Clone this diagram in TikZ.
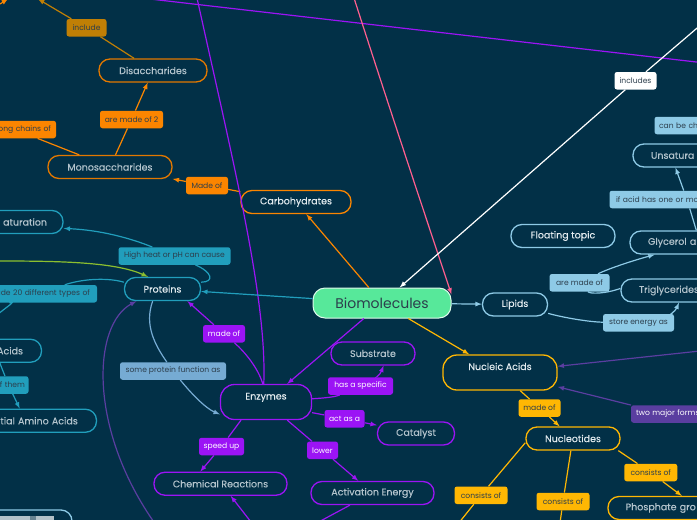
\documentclass[tikz,border=0pt]{standalone}
\usepackage{fontspec}
\setmainfont{Poppins}
\newfontfamily\topicfont{Poppins}[FakeBold=0.15]
\definecolor{navy}{HTML}{023047}
\definecolor{mint}{HTML}{57E89A}
\definecolor{orng}{HTML}{FB8500}
\definecolor{orngd}{HTML}{C07F05}
\definecolor{yell}{HTML}{FFB703}
\definecolor{teal}{HTML}{219EBC}
\definecolor{lblue}{HTML}{8ECAE6}
\definecolor{mblue}{HTML}{76ABD3}
\definecolor{purp}{HTML}{9B14F5}
\definecolor{viol}{HTML}{5A3EA0}
\definecolor{pink}{HTML}{FF5F8F}
\definecolor{lime}{HTML}{8CBF2F}
\definecolor{nodetx}{HTML}{E4ECF0}
\definecolor{deeptx}{HTML}{B4C4CD}
\definecolor{tagtx}{HTML}{2C3E4C}
\tikzset{
    topic/.style={draw=#1,line width=1.3pt,rounded corners=11pt,minimum height=23pt,
        inner ysep=0pt,text=nodetx,font=\topicfont\fontsize{9.5}{11}\selectfont},
    deep/.style={text=deeptx},
    tall/.style={rounded corners=14pt,text height=7pt,text depth=12pt,inner ysep=8pt},
    tag/.style={fill=#1,rounded corners=2.5pt,minimum height=17.5pt,inner ysep=0pt,inner xsep=0pt,
        text=tagtx,font=\fontsize{7.6}{9}\selectfont},
    conn/.style={draw=#1,line width=1.2pt},
}
\begin{document}
\begin{tikzpicture}[>=latex,x=1pt,y=-1pt]
    \fill[navy] (0,0) rectangle (697,520);
    \useasboundingbox (0,0) rectangle (697,520);
    \clip (0,0) rectangle (697,520);

    \node[draw=white!80!mint,fill=mint,line width=1pt,rounded corners=12pt,minimum width=138pt,minimum height=30pt,
        text=tagtx,font=\fontsize{14}{16}\selectfont] (bio) at (382,303) {Biomolecules};

    \node[topic=orng,minimum width=110pt] (carb) at (296,202) {Carbohydrates};
    \node[topic=orng!90!black,deep,minimum width=124pt] (mono) at (110,167) {Monosaccharides};
    \node[topic=orng!90!black,deep,minimum width=108pt] (disa) at (153,70.5) {Disaccharides};

    \node[topic=teal,minimum width=76pt] (prot) at (162.5,289) {Proteins};
    \node[topic=teal,deep,text width=114pt,inner xsep=16pt,align=right] (denat) at (-10,222) {aturation};
    \node[topic=teal,deep,text width=56pt,inner xsep=18.5pt,align=right] (acids) at (-5,350.75) {Acids};
    \node[topic=teal,deep,text width=104.6pt,inner xsep=18.7pt,align=right] (essen) at (25.5,420.75) {tial Amino Acids};

    \node[topic=purp,tall,minimum width=91pt] (enz) at (266,402) {Enzymes};
    \node[topic=purp,deep,minimum width=84pt] (subs) at (373,353.5) {Substrate};
    \node[topic=purp,deep,minimum width=77pt] (catal) at (416,433.5) {Catalyst};
    \node[topic=purp,deep,minimum width=123pt] (activ) at (372.5,493) {Activation Energy};
    \node[topic=purp,deep,minimum width=133pt] (chem) at (220.5,483.75) {Chemical Reactions};

    \node[topic=lblue,minimum width=65pt] (lip) at (515,304.5) {Lipids};
    \node[topic=lblue,minimum width=104pt] (floatt) at (563,236) {Floating topic};
    \node[topic=lblue,deep,text width=91pt,inner xsep=18pt,align=left] (unsat) at (696.5,155.5) {Unsatura};
    \node[topic=lblue,deep,text width=104pt,inner xsep=18pt,align=left] (gly) at (700,242.5) {Glycerol a};
    \node[topic=lblue,deep,text width=82pt,inner xsep=18pt,align=left] (trig) at (680,290.5) {Triglycerides};

    \node[topic=yell,tall,minimum width=114pt] (nucl) at (500,372.5) {Nucleic Acids};
    \node[topic=yell,minimum width=94pt] (nucleo) at (573,438.5) {Nucleotides};
    \node[topic=yell,deep,text width=144.6pt,inner xsep=17.7pt,align=left] (phos) at (698,508) {Phosphate gro};

    \node[topic=lblue,minimum width=146pt,minimum height=30pt] (imgbox) at (-1,525) {};
    \fill[white!70!navy] (0,516) rectangle (54,530);
    \fill[white!40!navy] (30,516) rectangle (36,530);

    \node[tag=orngd,minimum width=40pt] (incl) at (86.5,27.75) {include};
    \node[tag=orng,minimum width=63pt] (aretwo) at (131.5,119.5) {are made of 2};
    \node[tag=orng,text width=72pt,inner xsep=5pt,align=right] (longch) at (15,129.5) {ong chains of};
    \node[tag=orng,minimum width=42pt] (madec) at (207,185.5) {Made of};

    \node[tag=teal,minimum width=112pt] (heat) at (174.5,256) {High heat or pH can cause};
    \node[tag=teal,text width=104pt,inner xsep=7pt,align=right] (twenty) at (38,293.75) {ade 20 different types of};
    \node[tag=teal,text width=33pt,inner xsep=3.5pt,align=right] (ofthem) at (8.5,385) {of them};

    \node[tag=mblue,minimum width=106pt] (somep) at (173,371) {some protein function as};

    \node[tag=purp,text=white,minimum width=42pt] (madep) at (224,333.75) {made of};
    \node[tag=purp,text=white,minimum width=45pt] (speed) at (221.5,446.5) {speed up};
    \node[tag=purp,text=white,minimum width=31pt] (lower) at (322.5,450.25) {lower};
    \node[tag=purp,text=white,minimum width=65pt] (hasspec) at (360.5,386) {has a specific};
    \node[tag=purp,text=white,minimum width=40pt] (actas) at (344.5,418.75) {act as a};

    \node[tag=white,minimum width=42pt] (incs) at (635.5,80.75) {includes};

    \node[tag=lblue,text width=82pt,inner xsep=4.5pt,align=left] (canbe) at (700,125.5) {can be che};
    \node[tag=lblue,text width=142pt,inner xsep=6.5pt,align=left] (ifacid) at (687,199.5) {if acid has one or mo};
    \node[tag=lblue,minimum width=60pt] (aremade) at (579.5,282.75) {are made of};
    \node[tag=lblue,minimum width=71pt] (store) at (638.5,322.75) {store energy as};

    \node[tag=viol,text=white,text width=82pt,inner xsep=5pt,align=left] (twomaj) at (677,414) {two major forms};

    \node[tag=yell,minimum width=42pt] (madey) at (539.5,408) {made of};
    \node[tag=yell,minimum width=53pt] (consa) at (481,495.25) {consists of};
    \node[tag=yell,minimum width=53pt] (consb) at (563,501.5) {consists of};
    \node[tag=yell,minimum width=53pt] (consc) at (650.75,472.5) {consists of};

    \coordinate (topa) at (38,-1);
    \coordinate (cornera) at (0,4);
    \coordinate (cornerb) at (8,-1);
    \coordinate (purpa) at (150,-1);
    \coordinate (purpb) at (705,63);
    \coordinate (purpc) at (197,-2);
    \coordinate (pinka) at (354,-2);
    \coordinate (whitea) at (703,23);
    \coordinate (limea) at (-2,261);
    \coordinate (twentyb) at (-3,315);
    \coordinate (viola) at (156,525);
    \coordinate (violb) at (700,351);
    \coordinate (activb) at (300,532);
    \coordinate (chemb) at (258,531);
    \coordinate (consaend) at (450,534);
    \coordinate (consbend) at (559,530);

    \draw[conn=orng,->] (bio) -- (carb);
    \draw[conn=orng,->] (carb) -- (madec) -- (mono);
    \draw[conn=orng,->] (mono) -- (aretwo) -- (disa);
    \draw[conn=orng] (mono) -- (longch);
    \draw[conn=orngd,->] (disa) -- (incl) -- (topa);
    \draw[conn=orng,->] (cornera) -- (cornerb);

    \draw[conn=purp] (purpa) -- (purpb);
    \draw[conn=purp] (purpc) .. controls (235,170) and (267,300) .. (enz.97);
    \draw[conn=pink,->] (pinka) .. controls (390,110) and (430,230) .. (bio.7);
    \draw[conn=white,->] (whitea) -- (incs) -- (bio);

    \draw[conn=teal,->] (bio) -- (prot);
    \draw[conn=teal] (prot.10) .. controls (215,282) and (212,272) .. (heat);
    \draw[conn=teal,->] (heat) .. controls (130,238) and (100,230) .. (denat.-5);
    \draw[conn=lime,->] (limea) .. controls (60,261) and (115,262) .. (prot.140);
    \draw[conn=teal] (prot.170) .. controls (110,278) and (85,278) .. (twenty);
    \draw[conn=teal] (twenty) .. controls (18,300) and (5,308) .. (twentyb);
    \draw[conn=teal,->] (acids) -- (ofthem) -- (essen);

    \draw[conn=viol,->] (viola) .. controls (88,430) and (92,325) .. (prot.-155);
    \draw[conn=mblue] (prot.-129) .. controls (144,325) and (155,345) .. (somep);
    \draw[conn=mblue,->] (somep) .. controls (190,392) and (205,408) .. (enz.-165);

    \draw[conn=purp,->] (bio) -- (enz);
    \draw[conn=purp] (enz.100) .. controls (258,368) and (245,352) .. (madep);
    \draw[conn=purp,->] (madep) -- (prot.-26);
    \draw[conn=purp,->] (enz.-144) -- (speed) -- (chem.149);
    \draw[conn=purp,->] (enz) -- (lower) -- (activ);
    \draw[conn=purp] (enz.4) .. controls (325,398) and (335,397) .. (hasspec);
    \draw[conn=purp,->] (hasspec) .. controls (375,378) and (380,375) .. (subs.-49);
    \draw[conn=purp,->] (enz.-13) -- (actas) -- (catal.168);
    \draw[conn=purp] (activ) -- (activb);
    \draw[conn=purp,->] (chemb) -- (chem.-50);

    \draw[conn=lblue,->] (bio) -- (lip);
    \draw[conn=lblue] (lip.-15) .. controls (565,318) and (590,322) .. (store);
    \draw[conn=lblue,->] (store) .. controls (668,315) and (675,312) .. (trig.-95);
    \draw[conn=lblue] (trig.178) .. controls (605,294) and (590,294) .. (aremade);
    \draw[conn=lblue,->] (aremade) .. controls (610,268) and (635,260) .. (gly.-165);
    \draw[conn=lblue,->] (gly) -- (ifacid) -- (unsat.-150);

    \draw[conn=yell,->] (bio) -- (nucl);
    \draw[conn=yell,->] (nucl) -- (madey) -- (nucleo);
    \draw[conn=viol,->] (twomaj.169) -- (nucl);
    \draw[conn=viol,->] (violb) -- (nucl);
    \draw[conn=yell] (nucleo.-175) -- (consa) -- (consaend);
    \draw[conn=yell] (nucleo.-100) -- (consb) -- (consbend);
    \draw[conn=yell,->] (nucleo.-15) -- (consc) -- (phos);
\end{tikzpicture}
\end{document}
